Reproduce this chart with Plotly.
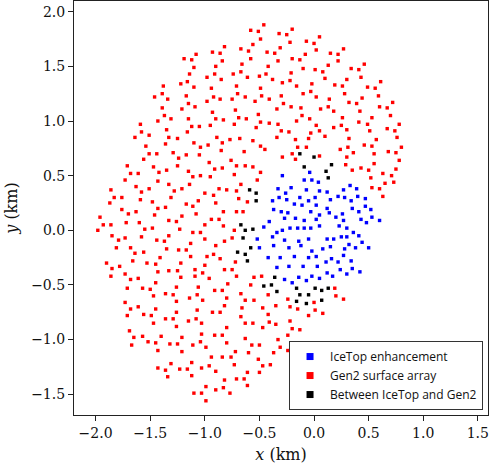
import plotly.graph_objects as go

# Station positions (km)
gen2_xy = [
    (-1.08, 1.61), (-1.19, 1.57), (-1.12, 1.56), (-1.10, 1.49), (-1.14, 1.43), (-0.98, 1.40),
    (-1.16, 1.36), (-1.22, 1.34), (-1.10, 1.31), (-1.38, 1.32), (-1.39, 1.25), (-1.46, 1.22),
    (-1.34, 1.20), (-1.17, 1.23), (-0.98, 1.18), (-1.15, 1.16), (-1.09, 1.13), (-1.21, 1.11),
    (-1.39, 1.12), (-1.37, 1.05), (-1.31, 1.02), (-1.43, 1.00), (-1.15, 1.02), (-1.59, 0.97),
    (-1.12, 0.95), (-1.05, 0.95), (-1.58, 0.90), (-1.35, 0.92), (-1.16, 0.90), (-1.51, 0.87),
    (-1.64, 0.85), (-1.33, 0.85), (-1.25, 0.84),
    (-0.46, 1.88), (-0.58, 1.83), (-0.51, 1.82), (-0.32, 1.80), (-0.25, 1.79), (-0.20, 1.84),
    (-0.49, 1.75), (0.05, 1.77), (-0.56, 1.70), (-0.82, 1.68), (-0.07, 1.73), (0.00, 1.71),
    (-0.22, 1.72), (-0.31, 1.67), (-0.93, 1.63), (-0.86, 1.62), (-0.67, 1.66), (-0.60, 1.64),
    (-0.43, 1.63), (-0.36, 1.62), (-0.08, 1.61), (0.02, 1.65), (0.15, 1.62), (0.22, 1.61),
    (0.27, 1.66), (-0.84, 1.55), (-0.58, 1.57), (-0.33, 1.55), (-0.20, 1.57), (-0.13, 1.56),
    (-0.66, 1.52), (-0.42, 1.50), (-0.90, 1.50), (0.13, 1.51), (0.22, 1.55), (-0.10, 1.48),
    (0.01, 1.47), (0.08, 1.45), (-0.67, 1.45), (-0.74, 1.43), (-0.91, 1.43), (-0.44, 1.43),
    (-0.21, 1.44), (-0.61, 1.40), (-0.50, 1.41), (-0.38, 1.38), (-0.85, 1.38), (-0.22, 1.37),
    (0.10, 1.39), (0.30, 1.38), (-0.29, 1.35), (-0.16, 1.32), (-0.02, 1.34), (0.19, 1.33),
    (0.26, 1.32), (-0.71, 1.32), (-0.94, 1.30), (-0.49, 1.30), (-0.03, 1.27), (-0.10, 1.25),
    (0.28, 1.25), (0.02, 1.22), (-0.92, 1.22), (-0.86, 1.20), (-0.75, 1.20), (-0.70, 1.25),
    (-0.63, 1.22), (-0.48, 1.23), (-0.30, 1.23), (-0.41, 1.20), (-0.54, 1.18), (0.14, 1.20),
    (-0.28, 1.16), (0.13, 1.13), (-0.34, 1.11), (-0.21, 1.13), (-0.12, 1.12), (0.06, 1.11),
    (0.18, 1.09), (-0.72, 1.10), (-0.93, 1.08), (-0.51, 1.06), (-0.11, 1.05), (-0.04, 1.02),
    (-0.69, 1.03), (-0.62, 1.02), (-0.90, 1.02), (-0.83, 1.01), (0.26, 1.03), (-0.49, 0.99),
    (-0.41, 0.98), (-0.33, 0.97), (-0.16, 1.00), (-0.73, 0.97), (-0.95, 0.96), (0.02, 0.96),
    (0.18, 0.94), (0.25, 0.96), (-0.53, 0.94), (-0.30, 0.91), (-0.23, 0.90), (-0.03, 0.89),
    (0.05, 0.91), (0.10, 0.86), (-0.89, 0.85), (-0.77, 0.83), (-0.68, 0.84), (-0.56, 0.82),
    (-0.34, 0.85), (-0.17, 0.83), (-0.05, 0.84),
    (0.46, 1.52), (0.34, 1.48), (0.41, 1.47), (0.43, 1.40), (0.61, 1.36), (0.49, 1.31),
    (0.56, 1.30), (0.59, 1.23), (0.44, 1.21), (0.32, 1.17), (0.39, 1.16), (0.72, 1.17),
    (0.60, 1.13), (0.67, 1.12), (0.42, 1.09), (0.70, 1.05), (0.53, 1.03), (0.41, 0.99),
    (0.49, 0.97), (0.78, 0.97), (0.30, 0.92), (0.67, 0.93), (0.74, 0.91), (0.51, 0.91),
    (0.76, 0.85), (0.57, 0.83), (0.32, 0.84),
    (-1.54, 0.77), (-1.36, 0.79), (-1.10, 0.80), (-1.04, 0.76), (-0.97, 0.78), (-1.51, 0.70),
    (-1.44, 0.70), (-1.29, 0.71), (-1.24, 0.66), (-1.17, 0.69), (-1.05, 0.69), (-1.56, 0.65),
    (-1.71, 0.59), (-1.25, 0.59), (-1.47, 0.58), (-0.96, 0.62), (-1.68, 0.52), (-1.61, 0.52),
    (-1.42, 0.53), (-1.35, 0.55), (-1.15, 0.54), (-1.11, 0.49), (-1.04, 0.50), (-1.73, 0.46),
    (-1.43, 0.45), (-1.33, 0.42), (-1.14, 0.42), (-1.63, 0.40), (-1.51, 0.38), (-1.28, 0.36),
    (-1.21, 0.38), (-1.86, 0.37), (-1.58, 0.35), (-1.00, 0.34), (-1.83, 0.30), (-1.76, 0.30),
    (-1.59, 0.28), (-1.31, 0.30), (-1.06, 0.27), (-1.48, 0.26), (-1.87, 0.25), (-1.17, 0.24),
    (-1.11, 0.22), (-1.43, 0.20), (-1.36, 0.21), (-1.76, 0.19), (-1.63, 0.17), (-1.70, 0.15),
    (-1.08, 0.15), (-1.46, 0.14), (-1.21, 0.13), (-1.96, 0.12), (-1.33, 0.09), (-1.26, 0.08),
    (-1.72, 0.07), (-1.60, 0.07), (-1.93, 0.05), (-1.86, 0.05), (-1.00, 0.05), (-1.23, 0.01),
    (-1.55, 0.01), (-1.48, 0.02), (-1.98, 0.00), (-1.11, -0.02), (-1.04, -0.02), (-1.85, -0.05),
    (-1.73, -0.07), (-1.58, -0.06), (-1.33, -0.05), (-1.44, -0.09), (-1.37, -0.10), (-1.00, -0.08),
    (-1.79, -0.09), (-1.13, -0.12), (-1.81, -0.16), (-1.68, -0.16), (-1.35, -0.17), (-1.24, -0.18),
    (-1.17, -0.18), (-1.64, -0.21), (-1.56, -0.20), (-1.41, -0.25), (-1.13, -0.24), (-0.98, -0.24),
    (-1.66, -0.28), (-1.90, -0.30), (-1.53, -0.30), (-1.45, -0.31), (-1.22, -0.30), (-1.00, -0.32),
    (-1.85, -0.35), (-1.78, -0.33), (-1.43, -0.38), (-1.33, -0.37), (-1.25, -0.37), (-1.09, -0.36),
    (-1.73, -0.40), (-1.86, -0.42), (-1.22, -0.43), (-1.09, -0.42), (-1.02, -0.39), (-0.96, -0.44),
    (-1.68, -0.45), (-1.61, -0.44),
    (-0.84, 0.80), (-0.49, 0.77), (-0.64, 0.72), (-0.85, 0.73), (-0.45, 0.74), (-0.15, 0.76),
    (-0.07, 0.76), (0.24, 0.74), (-0.20, 0.70), (-0.29, 0.67), (-0.17, 0.65), (0.05, 0.68),
    (-0.76, 0.64), (0.29, 0.60), (-0.91, 0.56), (-0.84, 0.57), (-0.71, 0.59), (-0.63, 0.59),
    (-0.56, 0.58), (-0.49, 0.53), (-0.73, 0.51), (-0.95, 0.49), (-0.67, 0.42), (-0.52, 0.46),
    (-0.87, 0.38), (-0.80, 0.37), (-0.71, 0.36), (-0.92, 0.32), (-0.69, 0.29), (-0.61, 0.26),
    (-0.90, 0.25), (-0.83, 0.17), (-0.71, 0.17), (-0.65, 0.17), (-0.94, 0.10), (-0.87, 0.10),
    (-0.83, 0.04), (-0.73, 0.00), (-0.82, -0.10), (-0.75, -0.07), (-0.90, -0.14), (-0.92, -0.22),
    (-0.86, -0.26), (-0.72, -0.29), (-0.82, -0.36), (-0.75, -0.36), (-0.71, -0.42), (-0.55, -0.43),
    (-0.48, -0.42),
    (0.46, 0.78), (0.53, 0.77), (0.31, 0.76), (0.36, 0.71), (0.55, 0.70), (0.68, 0.72),
    (0.75, 0.71), (0.80, 0.76), (0.30, 0.67), (0.78, 0.64), (0.55, 0.61), (0.35, 0.55),
    (0.43, 0.57), (0.50, 0.55), (0.75, 0.56), (0.63, 0.52), (0.71, 0.50), (0.52, 0.48),
    (0.65, 0.43), (0.73, 0.44), (0.53, 0.39), (0.60, 0.38), (0.63, 0.31),
    (-1.45, -0.48), (-1.71, -0.53), (-1.57, -0.53), (-1.50, -0.54), (-1.26, -0.52), (-1.06, -0.52),
    (-1.47, -0.60), (-1.36, -0.58), (-1.29, -0.59), (-1.14, -0.62), (-1.07, -0.59), (-1.26, -0.65),
    (-1.02, -0.64), (-1.73, -0.66), (-1.68, -0.72), (-1.61, -0.70), (-1.45, -0.72), (-1.26, -0.75),
    (-1.07, -0.73), (-1.71, -0.78), (-1.56, -0.77), (-1.49, -0.78), (-1.36, -0.81), (-1.29, -0.81),
    (-1.15, -0.83), (-1.08, -0.81), (-1.47, -0.85), (-1.03, -0.85), (-1.26, -0.88), (-1.69, -0.92),
    (-1.65, -0.98), (-1.57, -0.97), (-1.40, -0.97), (-1.21, -0.98), (-1.03, -0.95), (-1.52, -1.02),
    (-1.45, -1.03), (-1.32, -1.04), (-1.25, -1.04), (-1.11, -1.05), (-1.04, -1.02), (-0.99, -1.07),
    (-1.67, -1.05), (-1.43, -1.10), (-1.21, -1.11), (-1.31, -1.22), (-1.12, -1.21), (-0.96, -1.24),
    (-1.43, -1.26), (-1.36, -1.28), (-1.23, -1.27), (-1.16, -1.27), (-1.03, -1.26), (-1.34, -1.34),
    (-1.12, -1.33), (-0.99, -1.43), (-1.10, -1.49), (-1.03, -1.49), (-0.99, -1.56),
    (-0.91, -0.55), (-0.84, -0.55), (-0.79, -0.49), (-0.58, -0.50), (-0.67, -0.58), (-0.80, -0.62),
    (-0.63, -0.64), (-0.55, -0.64), (-0.42, -0.59), (0.19, -0.53), (0.20, -0.60), (0.27, -0.63),
    (-0.24, -0.63), (0.00, -0.66), (-0.82, -0.69), (-0.66, -0.71), (-0.47, -0.71), (-0.35, -0.69),
    (-0.22, -0.70), (-0.15, -0.72), (-0.93, -0.75), (-0.86, -0.75), (0.01, -0.73), (0.08, -0.76),
    (-0.42, -0.77), (-0.67, -0.79), (-0.05, -0.78), (-0.80, -0.89), (-0.63, -0.85), (-0.56, -0.85),
    (-0.47, -0.89), (-0.41, -0.84), (-0.35, -0.86), (-0.22, -0.83), (-0.20, -0.90), (-0.13, -0.91),
    (-0.91, -0.96), (-0.84, -0.96), (-0.63, -0.99), (-0.24, -0.96), (-0.33, -1.00), (-0.80, -1.03),
    (-0.57, -1.05), (-0.50, -1.05), (-0.31, -1.07), (-0.24, -1.10), (-0.72, -1.11), (-0.60, -1.12),
    (-0.37, -1.12), (-0.94, -1.16), (-0.84, -1.16), (-0.76, -1.16), (-0.51, -1.18), (-0.73, -1.23),
    (-0.47, -1.24), (-0.40, -1.23), (-0.90, -1.29), (-0.61, -1.30), (-0.50, -1.30), (-0.82, -1.37),
    (-0.71, -1.36), (-0.64, -1.36), (-0.61, -1.42), (-0.90, -1.46), (-0.83, -1.44), (-0.77, -1.49),
]

between_xy = [
    (-0.13, 0.70), (0.00, 0.67), (-0.09, 0.58), (0.11, 0.54), (0.16, 0.60), (0.13, 0.48),
    (-0.59, 0.37), (-0.53, 0.34), (-0.53, 0.27), (-0.67, 0.05), (-0.63, 0.00), (-0.56, 0.01),
    (-0.65, -0.07), (-0.58, -0.16), (-0.70, -0.20), (-0.63, -0.22), (-0.61, -0.28), (-0.36, -0.43),
    (-0.46, -0.51), (-0.39, -0.50), (-0.34, -0.56), (-0.16, -0.53), (-0.13, -0.59), (-0.05, -0.59),
    (0.01, -0.53), (0.07, -0.55), (0.13, -0.53), (-0.16, -0.65), (-0.07, -0.67), (0.07, -0.64),
]

icetop_xy = [
    (-0.04, 0.53), (-0.29, 0.50), (-0.09, 0.46), (-0.02, 0.46), (0.04, 0.44), (-0.33, 0.38),
    (-0.21, 0.39), (-0.26, 0.34), (-0.07, 0.37), (0.05, 0.36), (0.12, 0.35), (-0.38, 0.27),
    (-0.32, 0.30), (-0.25, 0.28), (-0.13, 0.30), (-0.18, 0.24), (-0.11, 0.23), (-0.05, 0.27),
    (0.01, 0.30), (0.15, 0.28), (0.22, 0.31), (0.02, 0.23), (0.12, 0.20), (-0.37, 0.19),
    (-0.30, 0.17), (-0.24, 0.16), (-0.03, 0.17), (0.05, 0.14), (0.14, 0.16), (0.20, 0.12),
    (0.26, 0.15), (-0.17, 0.11), (-0.09, 0.09), (-0.41, 0.08), (-0.27, 0.11), (0.02, 0.10),
    (-0.46, 0.03), (-0.34, -0.02), (-0.29, 0.00), (-0.22, 0.02), (-0.15, 0.02), (-0.09, 0.02),
    (-0.03, 0.02), (0.05, 0.04), (0.23, 0.04), (-0.52, -0.08), (-0.38, -0.06), (-0.27, -0.09),
    (-0.14, -0.10), (-0.05, -0.08), (0.12, -0.08), (0.18, -0.08), (0.25, -0.06), (-0.50, -0.16),
    (-0.37, -0.14), (-0.23, -0.16), (-0.12, -0.14), (-0.02, -0.19), (0.08, -0.17), (0.15, -0.15),
    (0.28, -0.17), (-0.42, -0.25), (-0.31, -0.25), (-0.18, -0.24), (-0.05, -0.25), (0.02, -0.24),
    (0.16, -0.26), (0.27, -0.23), (-0.34, -0.34), (-0.23, -0.33), (-0.10, -0.33), (0.03, -0.33),
    (0.11, -0.29), (0.22, -0.29), (0.12, -0.39),
    (-0.27, -0.45), (-0.20, -0.48), (-0.14, -0.43), (-0.07, -0.46), (-0.02, -0.42), (0.05, -0.44),
    (0.17, -0.42),
    (0.33, 0.41), (0.39, 0.38), (0.27, 0.37), (0.28, 0.30), (0.34, 0.27), (0.40, 0.31),
    (0.47, 0.29), (0.35, 0.20), (0.41, 0.17), (0.47, 0.22), (0.52, 0.19), (0.27, 0.09),
    (0.43, 0.10), (0.48, 0.07), (0.53, 0.12), (0.60, 0.09), (0.30, 0.02), (0.36, -0.02),
    (0.41, -0.05), (0.30, -0.06), (0.44, -0.11), (0.50, -0.16), (0.32, -0.13), (0.38, -0.16),
    (0.34, -0.28), (0.35, -0.35), (0.42, -0.38), (0.24, -0.36), (0.30, -0.40),
]

series_names = ["IceTop enhancement", "Gen2 surface array", "Between IceTop and Gen2"]
series_colors = ["#0000ff", "#ff0000", "#000000"]
x_ticks = [-2.0, -1.5, -1.0, -0.5, 0.0, 0.5, 1.0, 1.5]
y_ticks = [-1.5, -1.0, -0.5, 0.0, 0.5, 1.0, 1.5, 2.0]

fig = go.Figure()

# draw order: Gen2 (red) first, then IceTop (blue), then in-between (black)
for pts, color in [(gen2_xy, series_colors[1]), (icetop_xy, series_colors[0]), (between_xy, series_colors[2])]:
    fig.add_trace(go.Scatter(
        x=[p[0] for p in pts], y=[p[1] for p in pts], mode="markers",
        marker=dict(symbol="square", size=3.4, color=color, line=dict(width=0)),
        showlegend=False, hoverinfo="skip",
    ))

# legend entries with larger markers
for name, color in zip(series_names, series_colors):
    fig.add_trace(go.Scatter(
        x=[None], y=[None], mode="markers", name=name,
        marker=dict(symbol="square", size=7, color=color, line=dict(width=0)),
    ))

axis_common = dict(
    showgrid=False, zeroline=False, showline=True, mirror=True,
    linecolor="#222222", linewidth=1.1, ticks="outside", ticklen=5, tickwidth=1.1,
    tickcolor="#222222", tickformat=".1f", automargin=False,
    tickfont=dict(family="DejaVu Serif", size=14, color="#111111"),
)

fig.update_layout(
    width=490, height=464,
    margin=dict(l=74, r=2, t=1, b=49),
    paper_bgcolor="white", plot_bgcolor="white",
    xaxis=dict(range=[-2.198, 1.593], tickvals=x_ticks,
               title=dict(text="<i>x</i> (km)", font=dict(family="DejaVu Serif", size=16, color="#111111"), standoff=9),
               **axis_common),
    yaxis=dict(range=[-1.690, 2.098], tickvals=y_ticks,
               title=dict(text="<i>y</i> (km)", font=dict(family="DejaVu Serif", size=16, color="#111111"), standoff=9),
               **axis_common),
    legend=dict(
        x=0.988, y=0.012, xanchor="right", yanchor="bottom",
        bgcolor="white", bordercolor="#333333", borderwidth=1,
        font=dict(family="Open Sans", size=12, color="#111111"),
        itemwidth=30, tracegroupgap=0,
    ),
    showlegend=True,
)

fig.write_html("out.html", config={"displayModeBar": False},
               post_script="document.body.style.margin='0px';")
